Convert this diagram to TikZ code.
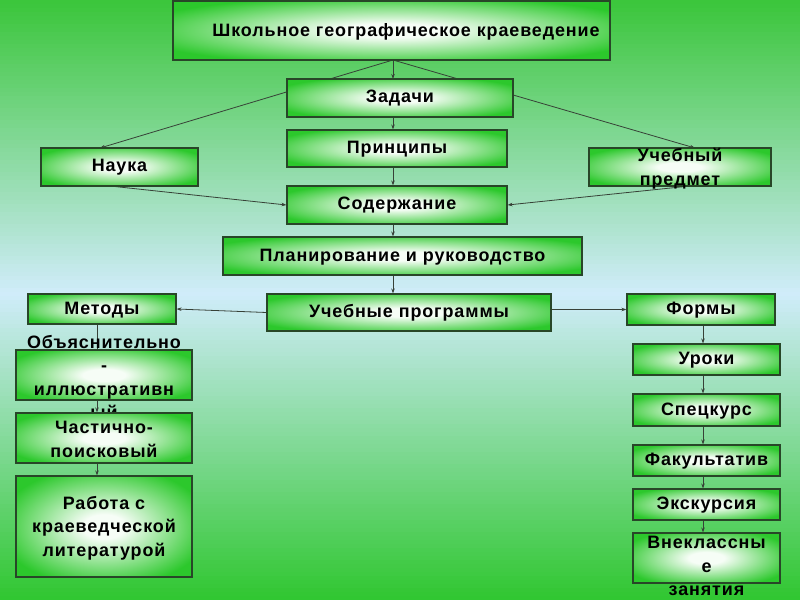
\documentclass[tikz,border=0pt]{standalone}
\usepackage{fontspec}
\setmainfont{Liberation Sans}[LetterSpace=5]
\usetikzlibrary{arrows.meta}
\pgfdeclarelayer{bg}
\pgfdeclarelayer{lines}
\pgfsetlayers{bg,lines,main}
\definecolor{bgtop}{RGB}{60,198,60}
\definecolor{bgmid}{RGB}{208,236,250}
\definecolor{bgbot}{RGB}{46,198,46}
\definecolor{boxgreen}{RGB}{44,200,44}
\definecolor{boxin}{RGB}{246,253,246}
\definecolor{edge}{RGB}{40,70,40}
\definecolor{conn}{RGB}{55,65,55}
\pgfdeclareradialshading{boxshade}{\pgfpoint{0bp}{0bp}}{color(0bp)=(boxin); color(6bp)=(boxin); color(30bp)=(boxgreen); color(50bp)=(boxgreen)}
\tikzset{
  x=1bp, y=-1bp,
  box/.style={draw=edge, line width=1.1bp, shading=boxshade,
    rectangle, inner sep=0pt, align=center, text height=13bp, text depth=3bp,
    font=\fontsize{18}{23.5}\selectfont\bfseries},
  shell/.style={draw=edge, line width=1.1bp, shading=boxshade, rectangle, inner sep=0pt},
  txt/.style={inner sep=0pt, align=center, font=\fontsize{18}{23.5}\selectfont\bfseries},
  conn/.style={draw=conn, line width=0.8bp, -{Stealth[length=5bp,width=3.5bp]}},
  plain/.style={draw=conn, line width=0.8bp}
}
\begin{document}
\begin{tikzpicture}
\useasboundingbox (0,0) rectangle (800,600);
\begin{pgfonlayer}{bg}
\foreach \i in {0,...,149}{
  \pgfmathsetmacro{\yy}{\i*4}
  \ifnum\i<73
    \pgfmathtruncatemacro{\pc}{\i*4/290*100}
    \colorlet{stripc}{bgmid!\pc!bgtop}
  \else
    \pgfmathtruncatemacro{\pc}{(\i*4-290)/310*100}
    \colorlet{stripc}{bgbot!\pc!bgmid}
  \fi
  \fill[stripc] (0,\yy) rectangle (800,\yy+4.6);
}
\end{pgfonlayer}
\node[shell, minimum width=437bp, minimum height=59bp] (top) at (391.5,30.5) {};
\node[txt] at (406,32) {Школьное географическое краеведение};
\node[box, minimum width=226bp, minimum height=38bp] (zad) at (400,98) {Задачи};
\node[box, minimum width=220bp, minimum height=37bp] (prin) at (397,148.5) {Принципы};
\node[box, minimum width=157bp, minimum height=38bp] (nauka) at (119.5,167) {Наука};
\node[shell, minimum width=182bp, minimum height=38bp] (ucheb) at (680,167) {};
\node[txt] at (680,168.5) {Учебный\\предмет};
\node[box, minimum width=220bp, minimum height=38bp] (sod) at (397,205) {Содержание};
\node[box, minimum width=359bp, minimum height=38bp] (plan) at (402.5,256) {Планирование и руководство};
\node[box, minimum width=284bp, minimum height=37bp] (prog) at (409,312.5) {Учебные программы};
\node[box, minimum width=148bp, minimum height=30bp] (met) at (102,309) {Методы};
\node[box, minimum width=148bp, minimum height=31bp] (form) at (701,309.5) {Формы};
\node[shell, minimum width=176bp, minimum height=50bp] (obj) at (104,375) {};
\node[txt] at (104,377) {Объяснительно\\-\\иллюстративн\\ый};
\node[shell, minimum width=176bp, minimum height=50bp] (chast) at (104,438) {};
\node[txt] at (104,439.5) {Частично-\\поисковый};
\node[shell, minimum width=176bp, minimum height=101bp] (rab) at (104,526.5) {};
\node[txt] at (104,528) {Работа с\\краеведческой\\литературой};
\node[box, minimum width=147bp, minimum height=31bp] (urok) at (706.5,359.5) {Уроки};
\node[box, minimum width=147bp, minimum height=32bp] (spec) at (706.5,410) {Спецкурс};
\node[box, minimum width=147bp, minimum height=31bp] (fak) at (706.5,460.5) {Факультатив};
\node[box, minimum width=147bp, minimum height=31bp] (eks) at (706.5,504.5) {Экскурсия};
\node[shell, minimum width=147bp, minimum height=50bp] (vn) at (706.5,558) {};
\node[txt] at (706.5,566) {Внеклассны\\е\\занятия};
\begin{pgfonlayer}{lines}
\coordinate (tb) at (393,60);
\draw[conn] (tb) -- (393,79);
\draw[conn] (tb) -- (100,148);
\draw[conn] (tb) -- (695,148);
\draw[conn] (zad.south -| 393,0) -- (prin.north -| 393,0);
\draw[conn] (prin.south -| 393,0) -- (sod.north -| 393,0);
\draw[conn] (110,186) -- (sod.west);
\draw[conn] (690,186) -- (sod.east);
\draw[conn] (sod.south -| 393,0) -- (plan.north -| 393,0);
\draw[conn] (plan.south -| 393,0) -- (prog.north -| 393,0);
\draw[conn] (prog.west) -- (met.east);
\draw[conn] (prog.east |- form.west) -- (form.west);
\draw[plain] (met.south -| 97,0) -- (obj.north -| 97,0);
\draw[conn] (obj.south -| 97,0) -- (chast.north -| 97,0);
\draw[conn] (chast.south -| 97,0) -- (rab.north -| 97,0);
\draw[conn] (form.south -| 703,0) -- (urok.north -| 703,0);
\draw[conn] (urok.south -| 703,0) -- (spec.north -| 703,0);
\draw[conn] (spec.south -| 703,0) -- (fak.north -| 703,0);
\draw[conn] (fak.south -| 703,0) -- (eks.north -| 703,0);
\draw[conn] (eks.south -| 703,0) -- (vn.north -| 703,0);
\end{pgfonlayer}
\end{tikzpicture}
\end{document}
